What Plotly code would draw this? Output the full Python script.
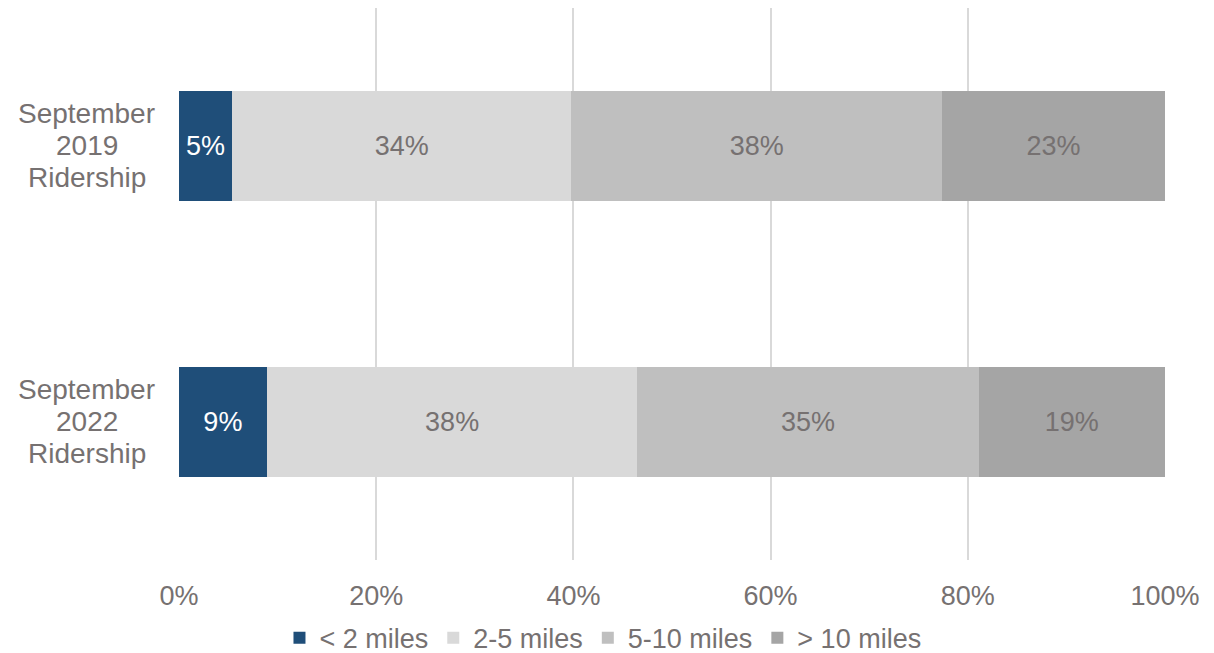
import plotly.graph_objects as go

# Ridership share by trip distance
periods = ["September 2019 Ridership", "September 2022 Ridership"]
bands = ["< 2 miles", "2-5 miles", "5-10 miles", "> 10 miles"]
shares = {
    "< 2 miles": [5.4, 8.9],
    "2-5 miles": [34.4, 37.6],
    "5-10 miles": [37.6, 34.6],
    "> 10 miles": [22.6, 18.9],
}
colors = ["#1F4E79", "#D9D9D9", "#BFBFBF", "#A5A5A5"]
label_colors = ["#FFFFFF", "#767171", "#767171", "#767171"]
tick_vals = [0, 20, 40, 60, 80, 100]
tick_text = ["0%", "20%", "40%", "60%", "80%", "100%"]

FONT = "Liberation Sans, Arial, sans-serif"
GRAY = "#767171"

fig = go.Figure()
for band, color, lc in zip(bands, colors, label_colors):
    fig.add_trace(go.Bar(
        y=periods,
        x=shares[band],
        name=band,
        orientation="h",
        marker=dict(color=color, line=dict(width=0)),
        texttemplate="%{x:.0f}%",
        textposition="inside",
        insidetextanchor="middle",
        textfont=dict(family=FONT, size=27, color=lc),
        hoverinfo="skip",
    ))

# Centered three-line category labels, one annotation per line
for p in periods:
    words = p.split(" ")
    for i, w in enumerate(words):
        fig.add_annotation(
            x=-0.0935, xref="paper", y=p, yref="y",
            text=w, showarrow=False,
            xanchor="center", yanchor="middle",
            yshift=(1 - i) * 32 + 1,
            font=dict(family=FONT, size=28, color=GRAY),
        )

fig.update_layout(
    barmode="stack",
    bargap=0.6,
    width=1214, height=653,
    margin=dict(l=179, r=49, t=8, b=93, autoexpand=False),
    plot_bgcolor="white",
    paper_bgcolor="white",
    font=dict(family=FONT, size=27, color=GRAY),
    showlegend=True,
    legend=dict(
        orientation="h",
        x=0.43, xanchor="center",
        yref="container",
        y=0.06, yanchor="top",
        font=dict(family=FONT, size=27, color=GRAY),
        itemwidth=30,
        traceorder="normal",
    ),
)
fig.update_xaxes(
    range=[0, 100],
    tickvals=tick_vals,
    ticktext=tick_text,
    showgrid=True,
    gridcolor="#D9D9D9",
    gridwidth=1.5,
    zeroline=False,
    showline=False,
    ticks="outside",
    ticklen=12,
    tickcolor="white",
    tickfont=dict(family=FONT, size=27, color=GRAY),
)
fig.update_yaxes(
    autorange="reversed",
    showticklabels=False,
    showgrid=False,
    zeroline=False,
    showline=False,
)

fig.write_html("out.html")
